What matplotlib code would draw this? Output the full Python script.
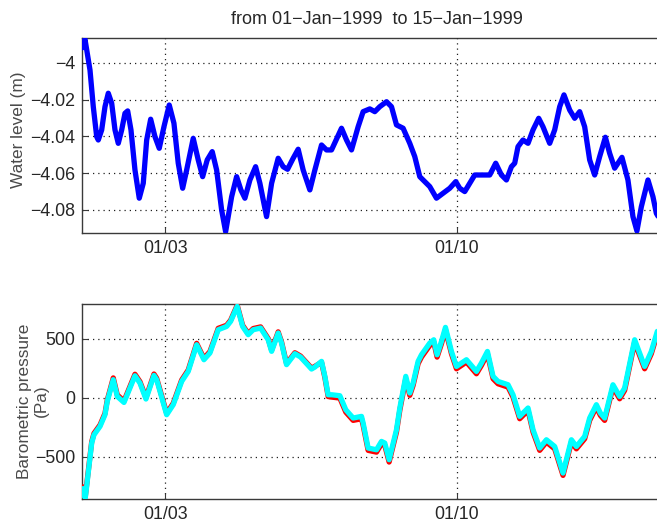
import matplotlib
matplotlib.use("Agg")
import matplotlib.pyplot as plt

plt.rcParams['font.family'] = ['Liberation Sans', 'DejaVu Sans']

# ---- data (time in days since 01-Jan-1999 00:00) ----
wl_days = [0.0, 0.031, 0.072, 0.192, 0.271, 0.353, 0.391, 0.473, 0.552, 0.631,
           0.713, 0.792, 0.871, 0.953, 1.032, 1.097, 1.176, 1.272, 1.375, 1.471,
           1.553, 1.649, 1.752, 1.855, 1.968, 2.095, 2.208, 2.311, 2.417, 2.513,
           2.671, 2.791, 2.897, 3.007, 3.127, 3.233, 3.353, 3.449, 3.593, 3.713,
           3.816, 3.912, 4.032, 4.169, 4.272, 4.432, 4.553, 4.711, 4.831, 4.936,
           5.071, 5.191, 5.311, 5.472, 5.592, 5.752, 5.872, 5.992, 6.232, 6.352,
           6.472, 6.631, 6.751, 6.911, 7.031, 7.151, 7.312, 7.432, 7.552, 7.711,
           7.871, 7.991, 8.111, 8.231, 8.351, 8.512, 8.671, 8.831, 8.975, 9.071,
           9.191, 9.311, 9.431, 9.630, 9.791, 9.935, 10.072, 10.192, 10.312, 10.391,
           10.470, 10.590, 10.711, 10.831, 10.967, 11.070, 11.231, 11.351, 11.471, 11.574,
           11.711, 11.831, 11.951, 12.071, 12.191, 12.311, 12.431, 12.568, 12.671, 12.791,
           12.966, 13.110, 13.230, 13.326, 13.432, 13.591, 13.711, 13.792, 14.0]
water_level = [-3.9920, -3.9913, -3.9873, -4.0040, -4.0239, -4.0402, -4.0420, -4.0365, -4.0239, -4.0166,
               -4.0220, -4.0365, -4.0438, -4.0365, -4.0275, -4.0262, -4.0365, -4.0583, -4.0736, -4.0655,
               -4.0420, -4.0307, -4.0402, -4.0465, -4.0348, -4.0230, -4.0329, -4.0546, -4.0682, -4.0583,
               -4.0411, -4.0528, -4.0619, -4.0528, -4.0483, -4.0583, -4.0800, -4.0918, -4.0728, -4.0619,
               -4.0691, -4.0736, -4.0637, -4.0565, -4.0655, -4.0836, -4.0655, -4.0519, -4.0565, -4.0579,
               -4.0519, -4.0470, -4.0583, -4.0691, -4.0583, -4.0447, -4.0474, -4.0474, -4.0356, -4.0420,
               -4.0474, -4.0348, -4.0266, -4.0251, -4.0266, -4.0239, -4.0212, -4.0239, -4.0338, -4.0356,
               -4.0438, -4.0510, -4.0619, -4.0646, -4.0673, -4.0736, -4.0709, -4.0682, -4.0646, -4.0682,
               -4.0700, -4.0655, -4.0610, -4.0610, -4.0610, -4.0546, -4.0610, -4.0637, -4.0565, -4.0546,
               -4.0456, -4.0420, -4.0438, -4.0365, -4.0302, -4.0348, -4.0438, -4.0365, -4.0239, -4.0175,
               -4.0257, -4.0302, -4.0266, -4.0348, -4.0528, -4.0610, -4.0510, -4.0405, -4.0492, -4.0573,
               -4.0514, -4.0637, -4.0836, -4.0914, -4.0782, -4.0637, -4.0728, -4.0818, -4.0900]

bp_days = [0.0, 0.079, 0.233, 0.288, 0.432, 0.552, 0.607, 0.751, 0.847, 1.008,
           1.272, 1.392, 1.536, 1.728, 1.793, 2.033, 2.191, 2.393, 2.551, 2.753,
           2.928, 3.072, 3.271, 3.473, 3.569, 3.727, 3.857, 3.991, 4.111, 4.289,
           4.471, 4.553, 4.711, 4.792, 4.912, 5.112, 5.248, 5.512, 5.592, 5.752,
           5.832, 5.911, 6.000, 6.192, 6.335, 6.511, 6.712, 6.751, 6.871, 7.072,
           7.192, 7.271, 7.375, 7.552, 7.632, 7.775, 7.871, 7.951, 8.071, 8.152,
           8.351, 8.447, 8.527, 8.632, 8.728, 8.872, 8.992, 9.232, 9.472, 9.592,
           9.736, 9.871, 9.991, 10.231, 10.351, 10.511, 10.711, 10.831, 10.991, 11.152,
           11.351, 11.551, 11.752, 11.872, 12.071, 12.191, 12.352, 12.448, 12.551, 12.750,
           12.911, 13.031, 13.271, 13.511, 13.671, 13.815, 14.0]
bp_cyan = [-774, -850, -384, -314, -243, -144, -31, 153, 11, -40,
           186, 124, -11, 189, 153, -144, -59, 138, 223, 449,
           322, 379, 576, 604, 647, 774, 604, 534, 576, 590,
           491, 393, 548, 463, 280, 373, 345, 243, 260, 308,
           181, 25, 25, 17, -102, -172, -158, -214, -426, -441,
           -370, -384, -525, -271, -87, 181, 40, 124, 308, 364,
           463, 491, 364, 477, 596, 392, 265, 322, 223, 294,
           392, 181, 138, 110, 25, -158, -87, -271, -426, -356,
           -413, -638, -356, -413, -328, -172, -59, -130, -172, 110,
           11, 82, 491, 265, 392, 562, 560]
bp_red = [-760, -838, -372, -302, -231, -132, -19, 168, 24, -28,
          199, 136, 1, 201, 165, -132, -47, 150, 235, 461,
          334, 391, 588, 614, 657, 784, 614, 544, 586, 600,
          501, 403, 558, 473, 290, 381, 353, 251, 266, 300,
          171, 10, 5, -3, -122, -192, -178, -234, -446, -461,
          -390, -404, -545, -291, -107, 161, 20, 104, 288, 344,
          443, 471, 344, 457, 576, 372, 245, 302, 203, 274,
          372, 161, 118, 90, 5, -178, -107, -291, -446, -376,
          -433, -658, -376, -433, -348, -192, -79, -150, -192, 90,
          -9, 62, 471, 245, 372, 542, 540]

tick_days = [2, 9]
tick_labels = ['01/03', '01/10']
wl_yticks = [-4.08, -4.06, -4.04, -4.02, -4.0]
wl_yticklabels = ['\u22124.08', '\u22124.06', '\u22124.04', '\u22124.02', '\u22124']
bp_yticks = [-500, 0, 500]
bp_yticklabels = ['\u2212500', '0', '500']
title_text = 'from 01\u2212Jan\u22121999  to 15\u2212Jan\u22121999'

# ---- figure ----
W, H = 657, 522
fig = plt.figure(figsize=(W / 100, H / 100), dpi=100)
fig.patch.set_facecolor('white')

def px_axes(x0, y0, x1, y1):
    return fig.add_axes([x0 / W, 1 - y1 / H, (x1 - x0) / W, (y1 - y0) / H])

ax1 = px_axes(82, 38, 665, 233)
ax2 = px_axes(82, 304, 665, 499)

text_color = '#262626'
label_color = '#4a4a4a'
fs = 12.8

def style(ax):
    for s in ax.spines.values():
        s.set_color('#3a3a3a')
        s.set_linewidth(1.0)
    ax.tick_params(direction='in', length=4, width=0.8, colors='#3a3a3a',
                   labelcolor=text_color, labelsize=fs, pad=5)
    ax.grid(True, color='#202020', linestyle=(0, (1, 3.2)), linewidth=0.9)
    ax.set_axisbelow(False)
    ax.set_xlim(0, 14)
    ax.set_xticks(tick_days)
    ax.set_xticklabels(tick_labels)

ax1.plot(wl_days, water_level, color='#0000ff', linewidth=3.8,
         solid_joinstyle='round', solid_capstyle='round', zorder=3)
style(ax1)
ax1.set_ylim(-4.0925, -3.9866)
ax1.set_yticks(wl_yticks)
ax1.set_yticklabels(wl_yticklabels)

ax2.plot(bp_days, bp_red, color='#ff0000', linewidth=3.8,
         solid_joinstyle='round', zorder=3)
ax2.plot(bp_days, bp_cyan, color='#00ffff', linewidth=3.8,
         solid_joinstyle='round', zorder=4)
style(ax2)
ax2.set_ylim(-858, 794)
ax2.set_yticks(bp_yticks)
ax2.set_yticklabels(bp_yticklabels)

# labels and title placed in pixel coordinates
fig.text(19 / W, 1 - 130 / H, 'Water level (m)', rotation=90, ha='center',
         va='center', fontsize=fs - 0.4, color=label_color)
fig.text(25 / W, 1 - 401 / H, 'Barometric pressure', rotation=90,
         ha='center', va='center', fontsize=fs - 0.4, color=label_color)
fig.text(41 / W, 1 - 401 / H, '(Pa)', rotation=90,
         ha='center', va='center', fontsize=fs - 0.4, color=label_color)
fig.text(377 / W, 1 - 19 / H, title_text, ha='center', va='center',
         fontsize=fs + 0.2, color=text_color)

fig.savefig('out.png', dpi=100)
